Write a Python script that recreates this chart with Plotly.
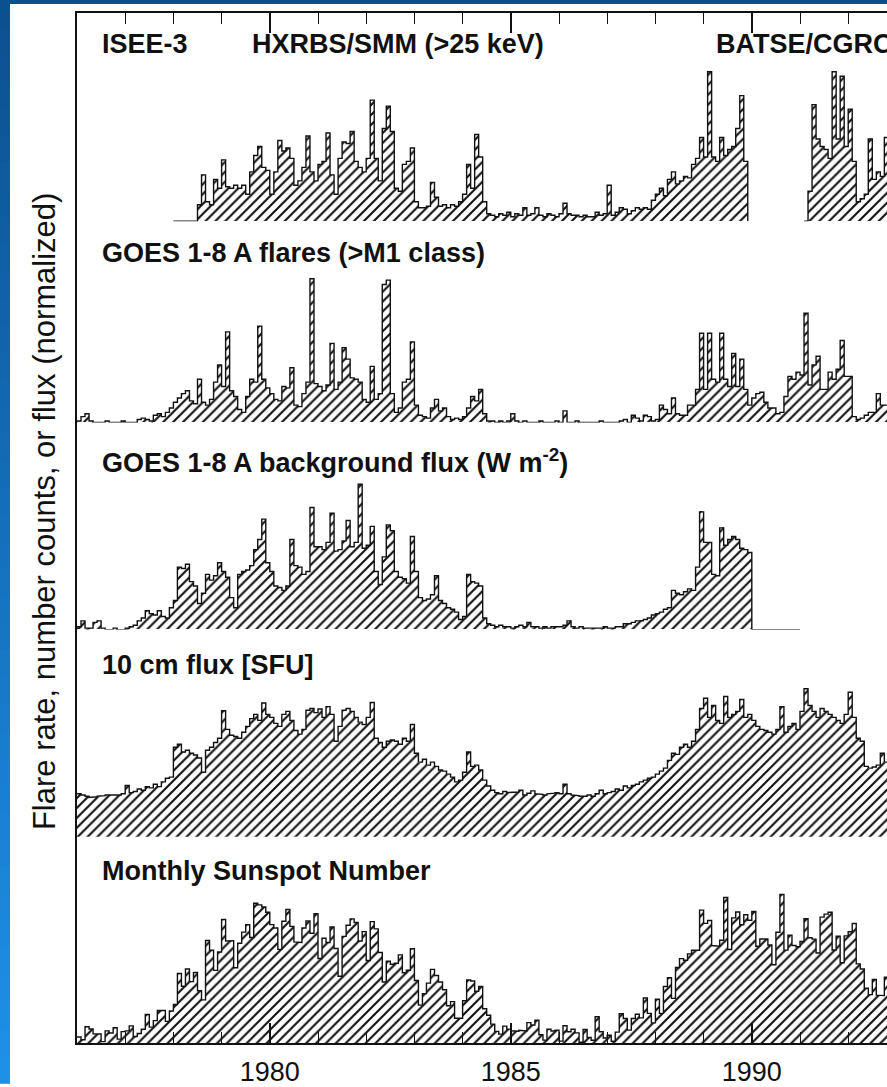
import plotly.graph_objects as go

# ---------------- data (monthly values, Jan 1976 ... Dec 1992) ----------------
START_YEAR = 1976
N = None

hxr_counts = (  # ISEE-3 / HXRBS-SMM / BATSE-CGRO hard X-ray flare rate (normalized)
    [N] * 12 + [N] * 12 +
    [0, 0, 0, 0, 0, 0, 11, 31, 13, 11, 28, 22] +
    [41, 23, 22, 24, 22, 24, 18, 33, 44, 50, 36, 34] +
    [18, 33, 54, 47, 49, 42, 24, 27, 36, 57, 33, 27] +
    [38, 40, 59, 31, 18, 42, 53, 52, 60, 40, 36, 33] +
    [42, 81, 42, 27, 62, 77, 60, 22, 20, 38, 40, 49] +
    [13, 9, 9, 10, 26, 16, 10, 11, 9, 11, 10, 13] +
    [18, 38, 22, 58, 43, 13, 5, 4, 3, 5, 4, 6] +
    [3, 5, 4, 9, 4, 5, 9, 4, 3, 5, 4, 3] +
    [5, 12, 5, 4, 4, 3, 4, 3, 3, 6, 4, 5] +
    [24, 4, 6, 9, 8, 5, 7, 9, 8, 9, 8, 14] +
    [18, 22, 17, 28, 33, 25, 27, 30, 29, 38, 42, 56] +
    [43, 100, 43, 40, 56, 44, 48, 50, 62, 84, 40, N] +
    [N] * 12 +
    [N, 0, 20, 78, 55, 50, 48, 42, 100, 55, 97, 50] +
    [75, 40, 13, 15, 18, 55, 28, 33, 30, 56, 30, 30]
)

goes_flares = (  # GOES 1-8 A flares > M1 (normalized)
    [1, 4, 6, 1, 0, 0, 0, 1, 0, 0, 0, 1] +
    [0, 0, 0, 2, 3, 2, 1, 5, 6, 4, 7, 10] +
    [14, 17, 20, 22, 15, 13, 30, 14, 12, 16, 28, 40] +
    [25, 63, 22, 18, 9, 7, 18, 30, 28, 67, 30, 24] +
    [20, 16, 15, 25, 24, 38, 12, 11, 20, 28, 100, 27] +
    [25, 22, 26, 55, 23, 28, 52, 44, 31, 30, 28, 16] +
    [14, 39, 16, 20, 96, 99, 20, 7, 10, 28, 30, 56] +
    [12, 5, 4, 3, 10, 16, 8, 10, 4, 2, 3, 2] +
    [4, 10, 18, 15, 23, 6, 1, 1, 0, 1, 0, 1] +
    [6, 1, 0, 1, 0, 0, 0, 1, 0, 0, 0, 1] +
    [0, 8, 0, 0, 1, 0, 0, 0, 0, 0, 1, 0] +
    [0, 0, 0, 1, 2, 0, 5, 3, 1, 5, 4, 1] +
    [2, 12, 9, 6, 17, 6, 5, 5, 12, 12, 23, 62] +
    [23, 62, 30, 28, 62, 30, 25, 48, 25, 44, 23, 12] +
    [17, 20, 21, 14, 10, 10, 6, 7, 18, 32, 30, 35] +
    [33, 76, 26, 40, 46, 23, 23, 35, 30, 37, 57, 32] +
    [32, 4, 2, 3, 5, 7, 7, 20, 12, 12, 14, 10]
)

goes_background = (  # GOES 1-8 A background flux (normalized)
    [2, 6, 1, 1, 5, 6, 1, 0, 0, 1, 0, 0] +
    [1, 2, 3, 6, 8, 13, 11, 10, 13, 9, 8, 15] +
    [20, 43, 42, 45, 33, 30, 18, 25, 38, 34, 37, 46] +
    [40, 36, 22, 15, 38, 40, 41, 44, 55, 62, 76, 46] +
    [40, 30, 29, 27, 30, 62, 44, 43, 38, 40, 84, 57] +
    [57, 55, 60, 80, 54, 55, 61, 75, 57, 60, 100, 56] +
    [58, 71, 40, 31, 50, 72, 68, 40, 36, 35, 32, 64] +
    [40, 22, 20, 21, 24, 37, 20, 18, 15, 14, 12, 7] +
    [9, 38, 33, 32, 30, 8, 4, 3, 2, 3, 2, 2] +
    [1, 2, 3, 2, 5, 2, 2, 1, 2, 1, 2, 2] +
    [2, 3, 6, 2, 1, 2, 1, 1, 1, 1, 1, 2] +
    [1, 1, 2, 2, 4, 4, 5, 6, 6, 7, 8, 10] +
    [11, 12, 14, 15, 27, 25, 24, 26, 28, 27, 43, 81] +
    [60, 60, 38, 37, 70, 58, 62, 64, 62, 56, 55, 53] +
    [0] * 12 +
    [N] * 12 + [N] * 12
)

flux_10cm = (  # 10 cm radio flux [SFU]
    [72, 70, 68, 66, 67, 68, 69, 70, 70, 71, 70, 72] +
    [86, 74, 76, 80, 78, 84, 82, 88, 84, 92, 98, 100] +
    [150, 155, 142, 145, 140, 137, 132, 108, 145, 150, 158, 165] +
    [211, 180, 170, 168, 165, 175, 185, 198, 205, 195, 224, 205] +
    [200, 190, 185, 205, 210, 195, 178, 172, 180, 212, 215, 208] +
    [214, 200, 218, 205, 160, 185, 212, 215, 210, 200, 192, 188] +
    [200, 225, 165, 158, 150, 160, 162, 160, 155, 165, 160, 188] +
    [140, 125, 130, 120, 125, 118, 112, 110, 105, 100, 92, 95] +
    [108, 142, 118, 120, 112, 95, 85, 78, 74, 72, 76, 74] +
    [74, 75, 78, 70, 73, 77, 72, 71, 70, 72, 73, 74] +
    [72, 88, 72, 70, 69, 68, 68, 70, 68, 72, 78, 72] +
    [74, 76, 80, 78, 85, 82, 86, 88, 92, 95, 98, 100] +
    [105, 110, 115, 128, 140, 138, 150, 155, 150, 160, 180, 215] +
    [232, 200, 220, 195, 190, 235, 200, 205, 210, 230, 200, 205] +
    [195, 185, 180, 178, 175, 172, 180, 218, 175, 185, 190, 180] +
    [210, 248, 220, 210, 200, 215, 210, 205, 200, 195, 190, 205] +
    [242, 200, 165, 160, 118, 115, 117, 120, 140, 125, 120, 118]
)

sunspot_number = (  # monthly sunspot number
    [8.1, 4.3, 21.9, 18.8, 12.4, 12.2, 1.9, 16.4, 13.5, 20.6, 5.2, 15.3] +
    [16.4, 23.1, 8.7, 12.9, 18.6, 38.5, 21.4, 30.1, 44.0, 43.8, 29.1, 43.2] +
    [51.9, 93.6, 76.5, 99.7, 82.7, 95.1, 70.4, 58.1, 138.2, 125.1, 97.9, 122.7] +
    [166.6, 137.5, 138.0, 101.5, 134.4, 149.5, 159.4, 142.2, 188.4, 186.2, 183.3, 176.3] +
    [159.6, 155.0, 126.2, 164.1, 179.9, 157.3, 136.3, 135.4, 155.0, 164.7, 147.9, 174.4] +
    [114.0, 141.3, 135.5, 156.4, 127.5, 90.0, 143.8, 158.7, 167.3, 162.4, 137.5, 150.1] +
    [111.2, 163.6, 153.8, 122.0, 82.2, 110.4, 106.1, 107.6, 118.8, 94.7, 98.1, 127.0] +
    [84.3, 51.0, 66.5, 80.7, 99.2, 91.1, 82.2, 71.8, 50.3, 55.8, 33.3, 33.4] +
    [57.0, 85.1, 83.5, 69.7, 76.4, 46.1, 37.4, 25.5, 15.7, 12.0, 22.8, 18.7] +
    [16.5, 15.9, 17.2, 16.2, 27.5, 24.2, 30.7, 11.1, 3.9, 18.6, 16.2, 17.3] +
    [2.5, 23.2, 15.1, 18.5, 13.7, 1.1, 18.1, 7.4, 3.8, 35.4, 15.2, 6.8] +
    [10.4, 2.4, 14.7, 39.6, 33.0, 17.4, 33.0, 38.7, 33.9, 60.6, 39.9, 27.1] +
    [59.0, 40.0, 76.2, 88.0, 60.1, 101.8, 113.8, 111.6, 120.1, 125.1, 125.1, 179.2] +
    [161.3, 165.1, 131.4, 130.6, 138.5, 196.2, 126.0, 168.7, 176.7, 159.4, 173.0, 165.5] +
    [177.3, 130.5, 140.3, 140.3, 132.2, 105.4, 149.4, 200.3, 125.2, 145.5, 131.4, 129.7] +
    [136.9, 167.5, 141.9, 140.0, 121.3, 169.7, 173.7, 176.3, 125.3, 144.1, 108.2, 144.4] +
    [150.0, 161.1, 106.7, 99.8, 73.8, 65.2, 85.7, 64.5, 63.9, 88.7, 91.8, 82.6]
)

tick_years = [1980, 1985, 1990]
minor_years = list(range(1976, 1994))

labels_top = ["ISEE-3", "HXRBS/SMM (>25 keV)", "BATSE/CGRO"]
panel_titles = ["GOES 1-8 A flares (>M1 class)",
                "GOES 1-8 A background flux (W m<sup>-2</sup>)",
                "10 cm flux [SFU]",
                "Monthly Sunspot Number"]
y_title = "Flare rate, number counts, or flux (normalized)"

# ---------------- layout geometry (pixels) ----------------
W, H = 887, 1087
ML, MT, MB = 77, 13, 40
PW, PH = W - ML, H - MT - MB
X0 = 1976.0
XMAX = X0 + PW / 48.2


def px(xp):
    return (xp - ML) / PW


def py(yp):
    return (H - MB - yp) / PH


FONT = "Liberation Sans, Arial, Helvetica, sans-serif"
INK = "#111111"

panels = [
    dict(vals=hxr_counts, ax="y", dom=[py(222), 1.0], rng=[0, 139.3], ends=True),
    dict(vals=goes_flares, ax="y2", dom=[py(424), py(222)], rng=[0, 140.0], ends=True),
    dict(vals=goes_background, ax="y3", dom=[py(632), py(424)], rng=[0, 142.5], ends=True),
    dict(vals=flux_10cm, ax="y4", dom=[py(840), py(632)], rng=[0, 347.0], ends=False),
    dict(vals=sunspot_number, ax="y5", dom=[0.0, py(840)], rng=[0, 278.0], ends=False),
]


def step_xy(vals, ends):
    xs, ys = [], []
    run = False
    last_e = None
    for i, v in enumerate(vals):
        e0 = X0 + i / 12.0
        e1 = X0 + (i + 1) / 12.0
        if v is None:
            if run:
                if ends:
                    xs.append(last_e); ys.append(0)
                xs.append(None); ys.append(None)
                run = False
            continue
        if not run and ends:
            xs.append(e0); ys.append(0)
        run = True
        xs += [e0, e1]
        ys += [v, v]
        last_e = e1
    if run and ends:
        xs.append(last_e); ys.append(0)
    return xs, ys


fig = go.Figure()

for p in panels:
    bx = [X0 + (i + 0.5) / 12.0 for i, v in enumerate(p["vals"]) if v is not None]
    by = [v for v in p["vals"] if v is not None]
    fig.add_trace(go.Bar(
        x=bx, y=by, width=1 / 12.0, yaxis=p["ax"], xaxis="x",
        marker=dict(color="white", line=dict(width=0),
                    pattern=dict(shape="/", size=7, solidity=0.3,
                                 fgcolor="#111111", bgcolor="white", fillmode="replace")),
        showlegend=False, hoverinfo="skip"))

for p in panels:
    sx, sy = step_xy(p["vals"], p["ends"])
    fig.add_trace(go.Scatter(
        x=sx, y=sy, mode="lines", yaxis=p["ax"], xaxis="x",
        line=dict(color=INK, width=1.4), connectgaps=False,
        showlegend=False, hoverinfo="skip"))

# invisible point so the full-height frame axis is drawn
fig.add_trace(go.Scatter(x=[X0], y=[0.5], xaxis="x", yaxis="y6", mode="markers",
                         marker=dict(size=1, opacity=0),
                         showlegend=False, hoverinfo="skip"))

layout = dict(
    width=W, height=H,
    margin=dict(l=ML, r=0, t=MT, b=MB, pad=0),
    paper_bgcolor="white", plot_bgcolor="rgba(0,0,0,0)",
    showlegend=False, bargap=0, barmode="overlay",
    font=dict(family=FONT, color=INK),
    xaxis=dict(
        domain=[0, 1], range=[X0, XMAX], anchor="y6",
        showline=True, linecolor=INK, linewidth=1.5, mirror="ticks",
        ticks="inside", ticklen=20, tickwidth=1.5, tickcolor=INK,
        tickmode="array", tickvals=tick_years, ticktext=[str(t) for t in tick_years],
        tickfont=dict(size=27, family=FONT, color=INK),
        ticklabelstandoff=4,
        minor=dict(ticks="inside", ticklen=11, tickwidth=1.3, tickcolor=INK,
                   tickmode="array", tickvals=minor_years, showgrid=False),
        showgrid=False, zeroline=False, fixedrange=True,
    ),
    yaxis6=dict(domain=[0, 1], range=[0, 1], anchor="x", showline=True,
                linecolor=INK, linewidth=1.5, ticks="", showticklabels=False,
                showgrid=False, zeroline=False),
)
for k, p in enumerate(panels):
    name = "yaxis" if k == 0 else "yaxis%d" % (k + 1)
    layout[name] = dict(domain=p["dom"], range=p["rng"], anchor="x", visible=False,
                        showgrid=False, zeroline=False)
fig.update_layout(**layout)

# blue page frame (top band + left gradient band)
shapes = [dict(type="rect", xref="paper", yref="paper", x0=px(0), x1=1.0,
               y0=py(4), y1=py(0), fillcolor="#0b5190", line=dict(width=0), layer="above")]
NSTR = 40
c0 = (11, 81, 144)
c1 = (30, 144, 232)
for s in range(NSTR):
    t = s / (NSTR - 1)
    col = "rgb(%d,%d,%d)" % tuple(round(c0[j] + (c1[j] - c0[j]) * t) for j in range(3))
    ya = s * H / NSTR
    yb = (s + 1) * H / NSTR + 1
    shapes.append(dict(type="rect", xref="paper", yref="paper", x0=px(0), x1=px(10),
                       y0=py(yb), y1=py(ya), fillcolor=col, line=dict(width=0), layer="above"))
fig.update_layout(shapes=shapes)

ann = []
top_x = [100, 250, 714]
for t, xx in zip(labels_top, top_x):
    ann.append(dict(text=t, x=px(xx), y=py(44), xref="paper", yref="paper",
                    xanchor="left", yanchor="middle", showarrow=False,
                    font=dict(size=27, family=FONT, color=INK, weight="bold")))
title_y = [254, 463, 668, 874]
for t, yy in zip(panel_titles, title_y):
    ann.append(dict(text=t, x=px(100), y=py(yy), xref="paper", yref="paper",
                    xanchor="left", yanchor="middle", showarrow=False,
                    font=dict(size=27, family=FONT, color=INK, weight="bold")))
ann.append(dict(text=y_title, x=px(44), y=py(514), xref="paper", yref="paper",
                xanchor="center", yanchor="middle", textangle=-90, showarrow=False,
                font=dict(size=31, family=FONT, color=INK)))
fig.update_layout(annotations=ann)

fig.write_html(
    "out.html",
    config={"displayModeBar": False},
    post_script="document.body.style.margin='0';document.body.style.overflow='hidden';",
)
